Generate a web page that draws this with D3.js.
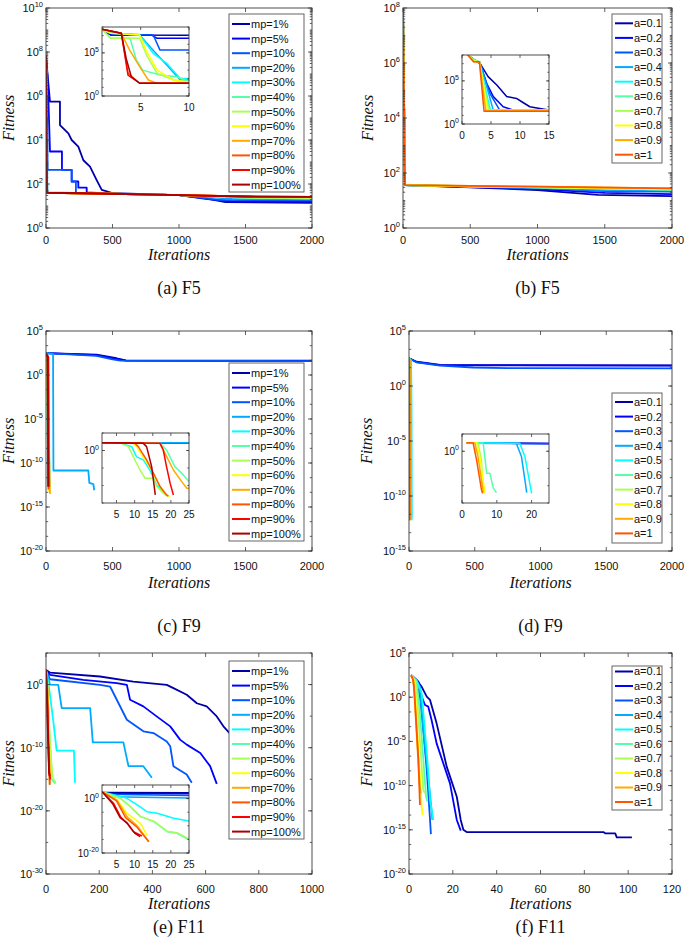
<!DOCTYPE html>
<html><head><meta charset="utf-8">
<script src="https://cdn.jsdelivr.net/npm/d3@7"></script>
<style>body{margin:0;background:#fff}svg{display:block}</style>
</head><body><svg id="c" width="685" height="940"></svg>
<script>
// ---------------- DATA ----------------
const mpLabels = ["mp=1%","mp=5%","mp=10%","mp=20%","mp=30%","mp=40%","mp=50%","mp=60%","mp=70%","mp=80%","mp=90%","mp=100%"];
const aLabels = ["a=0.1","a=0.2","a=0.3","a=0.4","a=0.5","a=0.6","a=0.7","a=0.8","a=0.9","a=1"];
const jetColors = ["#0000aa","#0000ff","#0055ff","#00aaff","#00ffff","#55ffaa","#aaff55","#ffff00","#ffaa00","#ff5500","#ff0000","#aa0000"];
const captions = ["(a) F5","(b) F5","(c) F9","(d) F9","(e) F11","(f) F11"];

const xTicks2000 = [0,500,1000,1500,2000];
const xTicks1000 = [0,200,400,600,800,1000];
const xTicks120 = [0,20,40,60,80,100,120];
const yTicksF5mp = [0,2,4,6,8,10];
const yTicksF5a = [0,2,4,6,8];
const yTicksF9mp = [5,0,-5,-10,-15,-20];
const yTicksF9a = [5,0,-5,-10,-15];
const yTicksF11mp = [0,-10,-20,-30];
const yTicksF11a = [5,0,-5,-10,-15,-20];
const insetXTicksA = [5,10], insetYTicksA = [0,5];
const insetXTicksB = [0,5,10,15], insetYTicksB = [0,5];
const insetXTicksC = [5,10,15,20,25], insetYTicksC = [0];
const insetXTicksD = [0,10,20], insetYTicksD = [0];
const insetXTicksE = [5,10,15,20,25], insetYTicksE = [0,-20];

// (a) F5, mp
const f5mpMain = [
 [[0,7e7],[12,8.9e6],[30,5.5e5],[105,5.5e5],[105,4.8e4],[168,2e4],[193,1e4],[243,5e3],[281,1.2e3],[331,6.2e2],[381,1.5e2],[419,54],[506,38],[1000,31],[1200,22],[1350,15],[2000,14]],
 [[0,7e7],[10,9e6],[20,3e5],[30,3e3],[120,3e3],[120,4.4e2],[193,4.4e2],[193,1.3e2],[243,1.3e2],[243,68],[306,68],[306,41],[500,36],[1000,31],[1200,21],[1400,16],[2000,16]],
 [[0,7e7],[8,2e6],[12,4.4e2],[193,4.4e2],[193,1.3e2],[225,1.3e2],[225,40],[500,36],[1000,31],[1300,19],[2000,18]],
 [[0,7e7],[5,1e6],[10,60],[15,42],[500,36],[1000,31],[1400,21],[2000,20]],
 [[0,7e7],[4,1e6],[7,40],[500,36],[1000,31],[1500,24],[2000,22]],
 [[0,7e7],[4,1e6],[7,40],[500,36],[1000,31],[1500,24],[2000,22]],
 [[0,7e7],[4,1e6],[7,40],[500,36],[1000,31],[1500,24],[2000,22]],
 [[0,7e7],[3,1e6],[6,40],[500,36],[1000,31],[1500,27],[2000,25]],
 [[0,7e7],[3,1e6],[6,40],[500,36],[1000,31],[1500,27],[2000,26]],
 [[0,7e7],[3,1e6],[6,40],[500,36],[1000,31],[1500,27],[2000,26]],
 [[0,7e7],[3,1e6],[6,40],[500,36],[1000,31],[1500,27],[2000,26]],
 [[0,7e7],[3,1e6],[6,40],[500,36],[1000,31],[1500,27],[2000,26]]
];
const f5mpInset = [
 [[1,5.4e7],[1.9,1.2e7],[10,1.1e7]],
 [[1,5.4e7],[1.9,1.2e7],[6.1,1.2e7],[6.7,4.9e6],[10,4.9e6]],
 [[1,5.4e7],[2.2,1.5e7],[6.3,1.2e7],[7.0,2.1e5],[10,2.1e5]],
 [[1,5.4e7],[3,1.5e7],[4.9,1.2e7],[6.1,3.4e5],[7.7,3.9e3],[9.1,72],[10,72]],
 [[1,5.4e7],[1.9,1.9e7],[4.9,1.2e7],[6.3,8.9e4],[7.7,6e3],[9.1,110],[10,110]],
 [[1,5.4e7],[1.9,4.9e6],[3.9,4.9e6],[4.55,1.5e4],[5.2,1e3],[7,270],[8.7,170],[10,46]],
 [[1,5.4e7],[1.9,4.9e6],[4.9,4.9e6],[5.6,5.6e4],[6.7,430],[8.4,72],[10,46]],
 [[1,5.4e7],[1.9,1.9e7],[4.9,1.2e7],[5.6,1.5e5],[6.7,1e3],[8.4,72],[10,40]],
 [[1,5.4e7],[3,1.9e7],[3.86,2.1e5],[4.9,2.5e3],[5.8,72],[6.7,30],[10,30]],
 [[1,5.4e7],[3,1.9e7],[3.7,430],[4.9,30],[10,30]],
 [[1,5.4e7],[3,1.9e7],[3.69,270],[4.9,30],[10,30]],
 [[1,5.4e7],[3,1.9e7],[3.5,2.3e4],[4.03,170],[4.9,30],[10,30]]
];
// (b) F5, a
const f5aMain = [
 [[0,1e8],[15,36],[500,30],[1000,24],[1450,16],[2000,14.5]],
 [[0,1e8],[15,36],[500,31],[1000,26],[1500,19],[2000,17]],
 [[0,1e8],[15,36],[500,32],[1000,28],[1500,22],[2000,21]],
 [[0,1e8],[15,36],[500,32],[1000,29],[1500,24],[2000,23]],
 [[0,1e8],[15,36],[500,33],[1000,30],[2000,25]],
 [[0,1e8],[15,36],[500,33],[1000,30],[2000,25]],
 [[0,1e8],[15,36],[500,33],[1000,30],[2000,25]],
 [[0,1e8],[15,36],[500,33],[1000,31],[2000,26]],
 [[0,1e8],[15,36],[500,34],[1000,32],[2000,27.5]],
 [[0,1e8],[15,36],[500,34],[1000,32],[2000,27.5]]
];
const f5aInset = [
 [[1,1e8],[2,3e7],[3.1,1.1e7],[4.5,3.1e5],[6,3.3e4],[7.7,1.5e3],[9.4,930],[10.3,380],[11.7,100],[13.4,63],[15,41]],
 [[1,1e8],[2,3e7],[3.1,1.1e7],[4.25,5.2e4],[5.4,1.5e3],[7.1,100],[8.9,40],[15,38]],
 [[1,1e8],[2,3e7],[3.1,1.1e7],[4.8,3.5e3],[6.5,40],[15,38]],
 [[1,1e8],[2,3e7],[3.1,1.5e7],[5.4,38],[15,38]],
 [[1,1e8],[2,3e7],[3,1.5e7],[4.9,38],[15,38]],
 [[1,1e8],[2,3e7],[3,1.5e7],[4.7,38],[15,38]],
 [[1,1e8],[2,2.5e7],[3,1.5e7],[4.6,38],[15,38]],
 [[1,1e8],[2,2e7],[3,1.7e7],[4.4,38],[15,38]],
 [[1,1e8],[2,1.7e7],[3,1.7e7],[4.1,36],[15,36]],
 [[1,1e8],[2,1.7e7],[3,1.7e7],[3.8,30],[15,30]]
];
// (c) F9, mp
const f9mpMain = [
 [[0,300],[380,200],[530,80],[600,45],[2000,42]],
 [[0,300],[380,180],[530,70],[600,42],[2000,40]],
 [[0,300],[380,150],[500,60],[560,42],[2000,38]],
 [[0,300],[53,250],[56,1.4e-11],[318,1.4e-11],[326,5.4e-13],[356,4e-13],[363,8e-14]],
 [[0,300],[6,110],[10,1e-2],[16,1e-10],[19,2e-13]],
 [[0,300],[17,110],[21,2.5e-5],[25,1.3e-9],[30,1.6e-13]],
 [[0,300],[8,12],[12,2.7e-6],[16,5e-11],[19,6e-14]],
 [[0,300],[10,110],[15,2.7e-6],[20,6e-14]],
 [[0,300],[17,110],[23,1.3e-9],[30,3e-14]],
 [[0,300],[10,110],[15,3e-7],[19,1e-13]],
 [[0,300],[17,110],[19,2.5e-5],[21,2e-13]],
 [[0,300],[12,110],[15,2.5e-5],[16,2e-13]]
];
const f9mpInset = [
 [[1,170],[25,160]],
 [[1,170],[25,160]],
 [[1,170],[25,160]],
 [[1,170],[25,160]],
 [[1,170],[6.4,110],[9.2,12.6],[10.5,1.7e-2],[12.4,2e-3],[14.2,2.7e-6],[16.1,1.3e-10],[17.9,2e-12],[18.8,2e-13]],
 [[1,170],[17,110],[18.8,1.4],[21.1,2.5e-5],[23,3.2e-7],[25,1.3e-9]],
 [[1,170],[6.4,110],[8.3,12.6],[9.6,1.7e-2],[11.5,2.7e-6],[12.9,1.1e-8],[15.2,1.1e-8],[16.1,5e-11],[17.9,6.3e-13],[19.3,6.3e-14]],
 [[1,170],[9.6,110],[10.5,12.6],[12.9,2e-3],[14.7,2.7e-6],[17,5e-11],[18.8,2e-13],[19.8,6.3e-14]],
 [[1,170],[17,110],[19.3,2e-3],[20.7,2.7e-6],[23,1.3e-9],[24.4,1.6e-11],[25,1.6e-11]],
 [[1,170],[10.1,110],[11,12.6],[13.3,2e-3],[15.2,3.2e-7],[17,5e-11],[18.8,2e-13],[19.3,1e-13]],
 [[1,170],[17,110],[17.9,1.4],[18.8,2.5e-5],[19.8,4e-10],[20.7,2e-13]],
 [[1,170],[12.4,110],[13.3,12.6],[14.7,2.5e-5],[15.7,2e-13]]
];
// (d) F9, a
const f9aMain = [
 [[0,330],[58,160],[236,85],[489,78],[2000,76]],
 [[0,330],[58,150],[236,80],[489,75],[2000,72]],
 [[0,330],[58,140],[236,70],[489,48],[742,42],[2000,40]],
 [[0,330],[15.6,200],[17.1,2.5e-2],[18.6,1e-12]],
 [[0,330],[16.6,200],[18.1,2.5e-2],[20,6.3e-13]],
 [[0,330],[5.6,250],[6.1,190],[7.1,4e-7],[8,4e-7],[9,2e-11],[9.9,1e-12]],
 [[0,330],[4.6,250],[5.6,2.8e-3],[6.1,6.3e-13]],
 [[0,330],[4.2,250],[5.1,2.5e-2],[6.6,6.3e-13]],
 [[0,330],[3.7,250],[4.6,2.5e-2],[6.1,2e-12]],
 [[0,330],[3.2,250],[4.2,2.8e-3],[5.6,6.3e-12],[5.9,6.3e-13]]
];
const f9aInset = [
 [[1.3,300],[3,220],[25,190]],
 [[1.3,300],[3,220],[25,170]],
 [[1.3,300],[3,220],[25,150]],
 [[1.3,300],[15.6,200],[17.1,2.5e-2],[18.6,1e-12]],
 [[1.3,300],[16.6,200],[18.1,2.5e-2],[20,6.3e-13]],
 [[1.3,300],[5.6,250],[6.1,190],[7.1,4e-7],[8,4e-7],[9,2e-11],[9.9,1e-12]],
 [[1.3,300],[4.6,250],[5.6,2.8e-3],[6.1,6.3e-13]],
 [[1.3,300],[4.2,250],[5.1,2.5e-2],[6.6,6.3e-13]],
 [[1.3,300],[3.7,250],[4.6,2.5e-2],[6.1,2e-12]],
 [[1.3,300],[3.2,250],[4.2,2.8e-3],[5.6,6.3e-12],[5.9,6.3e-13]]
];
// (e) F11, mp
const f11mpMain = [
 [[0,200],[15,79],[203,19],[328,3],[454,0.9],[479,0.27],[529,2.4e-2],[567,1.1e-3],[604,3.5e-4],[642,9e-6],[667,2.4e-7],[690,2.1e-8]],
 [[0,200],[15,34],[140,5.5],[266,1.7],[304,0.89],[316,3.9e-3],[366,3.5e-4],[416,9.1e-6],[467,2.4e-7],[504,1.9e-9],[529,3.1e-10],[580,1.5e-11],[617,1.2e-13],[642,1.9e-16]],
 [[0,200],[15,7],[203,0.89],[241,0.49],[304,2.7e-6],[366,3.9e-8],[404,2.1e-8],[454,1e-9],[467,1.7e-10],[479,1.2e-13],[529,5.8e-15],[548,2.8e-16]],
 [[0,200],[15,1],[46,0.89],[59,1.9e-4],[166,1.9e-4],[176,7.1e-10],[291,7.1e-10],[310,1.2e-13],[366,1.2e-13],[398,1.7e-15]],
 [[0,200],[10,1],[28,1e-6],[40,3.5e-11],[105,3.5e-11],[109,2.8e-16]],
 [[0,200],[6,1.3],[12,2.3e-7],[19,6.9e-13],[25,6.3e-16],[35,2e-16]],
 [[0,200],[6,1],[12,3e-7],[19,1e-12],[25,1.6e-15],[37,3e-16]],
 [[0,200],[5,0.31],[8,3.9e-6],[12,7.9e-10],[14,4e-14],[20,1e-15]],
 [[0,200],[5,0.2],[8,2.3e-7],[11,1e-10],[14,1.6e-16]],
 [[0,200],[5,0.15],[8,1e-7],[11,5e-11],[14,1.3e-16]],
 [[0,200],[4,1.8e-2],[8,7.9e-10],[12,1.8e-14],[16,1e-15]],
 [[0,200],[4,1e-2],[8,1e-9],[11.5,1e-14],[14,3e-15]]
];
const f11mpInset = [
 [[1,350],[2,160],[25,150]],
 [[1,350],[2,80],[25,60]],
 [[1,350],[2,40],[25,15]],
 [[1,350],[3,5],[25,1.5]],
 [[1,350],[7.9,1.3],[10.7,4.5e-3],[13.4,1.6e-5],[16.2,3.9e-6],[20.8,5.6e-8],[25,5.9e-9]],
 [[1,350],[6.1,1.3],[8.8,1.1e-3],[11.6,2.3e-7],[15.3,3.3e-9],[19,6.9e-13],[21.7,1.7e-13],[25,6.3e-16]],
 [[1,350],[6.1,1],[8.8,1.5e-3],[11.6,3e-7],[15.3,5e-9],[19,1e-12],[21.7,3e-13],[25,1.6e-15]],
 [[1,350],[5.2,0.31],[7.9,3.9e-6],[11.6,7.9e-10],[13.4,4e-14]],
 [[1,350],[5.2,0.2],[7.9,2.3e-7],[10.7,1e-10],[13.9,1.6e-16]],
 [[1,350],[5,0.15],[7.5,1e-7],[10.5,5e-11],[13.9,1.3e-16]],
 [[1,350],[4.2,1.8e-2],[6.1,2.3e-7],[7.9,7.9e-10],[9.7,6.9e-13],[12,1.8e-14]],
 [[1,350],[4,1e-2],[6,1e-7],[8,1e-9],[10,2e-13],[11.5,1e-14]]
];
// (f) F11, a
const f11aMain = [
 [[1,300],[3.5,89],[5.8,15],[8.1,1.15],[9.6,0.49],[12.6,1.1e-3],[17.2,1.4e-8],[21.8,5.5e-12],[23.6,1.3e-14],[24.8,1e-15],[26.3,5.6e-16],[88.7,5.6e-16],[89.5,4e-16],[94.1,4e-16],[94.8,1.4e-16],[101.7,1.4e-16]],
 [[1,300],[4.3,58],[5.8,1.15],[7.3,0.13],[8.8,8.5e-2],[10.3,2.6e-3],[12.6,6e-6],[18.7,1.8e-10],[21.8,1.3e-14],[23.6,8e-16]],
 [[1,300],[3.5,30],[5,1.15],[6.5,2e-4],[8.1,5.9e-9],[9.6,1.3e-14],[10,3.2e-16]],
 [[1,300],[3.5,60],[5,15],[6.5,2e-4],[8.8,1e-9],[10.7,1.3e-14]],
 [[1,300],[3.5,80],[5.8,2.8],[8.4,7.9e-8],[9.6,2.5e-12],[11.1,1.3e-14]],
 [[1,300],[3.5,60],[5,1.3e-2],[7.8,5e-12],[8.4,1.6e-12]],
 [[1,300],[3,60],[4.3,5e-3],[6.5,3e-11],[7.3,1.3e-11]],
 [[1,300],[2.5,60],[3.5,2.6e-3],[5.8,4e-13],[6.2,5e-14]],
 [[1,300],[2,80],[2.8,8.5e-2],[4.7,4.2e-10],[5.3,1.3e-11]],
 [[1,300],[1.8,100],[2.3,15],[4.3,7.9e-8],[5,6.3e-13]]
];

// ---------------- DRAWING ----------------
const svg = d3.select("#c");
const SANS = "'Liberation Sans', Arial, Helvetica, sans-serif";
const SERIF = "'Liberation Serif', 'Times New Roman', serif";
const AX = "#3a3a3a";
let clipN = 0;

function panel(o) {
  const xs = d3.scaleLinear().domain(o.xd).range([o.l, o.r]);
  const ys = d3.scaleLog().domain([Math.pow(10, o.yd[0]), Math.pow(10, o.yd[1])]).range([o.b, o.t]);
  const g = svg.append("g");
  g.append("rect").attr("x", o.l).attr("y", o.t).attr("width", o.r - o.l).attr("height", o.b - o.t).attr("fill", "#fff");
  const id = "clip" + (clipN++);
  g.append("clipPath").attr("id", id).append("rect")
    .attr("x", o.l).attr("y", o.t).attr("width", o.r - o.l).attr("height", o.b - o.t);
  const line = d3.line().x(d => xs(d[0])).y(d => ys(d[1]));
  g.append("g").attr("clip-path", `url(#${id})`)
    .selectAll("path").data(o.series).join("path")
    .attr("d", line).attr("fill", "none")
    .attr("stroke", (d, i) => jetColors[i])
    .attr("stroke-width", o.lw).attr("stroke-linejoin", "round");
  const tk = g.append("g").attr("stroke", AX).attr("stroke-width", 0.8);
  const tl = o.tl, tm = o.tl * 0.55;
  o.xt.forEach(v => {
    const x = xs(v);
    tk.append("line").attr("x1", x).attr("x2", x).attr("y1", o.b).attr("y2", o.b - tl);
    tk.append("line").attr("x1", x).attr("x2", x).attr("y1", o.t).attr("y2", o.t + tl);
  });
  let minors = [];
  if (o.minor === "log") {
    for (let d = o.yd[0]; d < o.yd[1]; d++) for (let k = 1; k < 10; k++) minors.push(k * Math.pow(10, d));
  } else {
    const s = o.minor;
    for (let e = o.yd[1]; e >= o.yd[0] - 1e-6; e -= s) minors.push(Math.pow(10, e));
  }
  minors.forEach(v => {
    const y = ys(v);
    if (y < o.t - 0.5 || y > o.b + 0.5) return;
    tk.append("line").attr("x1", o.l).attr("x2", o.l + tm).attr("y1", y).attr("y2", y);
    tk.append("line").attr("x1", o.r).attr("x2", o.r - tm).attr("y1", y).attr("y2", y);
  });
  o.yt.forEach(e => {
    const y = ys(Math.pow(10, e));
    tk.append("line").attr("x1", o.l).attr("x2", o.l + tl).attr("y1", y).attr("y2", y);
    tk.append("line").attr("x1", o.r).attr("x2", o.r - tl).attr("y1", y).attr("y2", y);
  });
  g.append("rect").attr("x", o.l).attr("y", o.t).attr("width", o.r - o.l).attr("height", o.b - o.t)
    .attr("fill", "none").attr("stroke", AX).attr("stroke-width", 0.9);
  o.xt.forEach(v => {
    g.append("text").attr("x", xs(v)).attr("y", o.b + o.xpad).attr("text-anchor", "middle")
      .attr("font-family", SANS).attr("font-size", o.fs).attr("fill", "#111").text(v);
  });
  o.yt.forEach(e => {
    const t = g.append("text").attr("x", o.l - 3).attr("y", ys(Math.pow(10, e)))
      .attr("dy", "0.36em").attr("text-anchor", "end")
      .attr("font-family", SANS).attr("font-size", o.fs).attr("fill", "#111");
    t.append("tspan").text("10");
    t.append("tspan").attr("dy", -o.fs * 0.45).attr("font-size", o.efs).text(e);
  });
  return {xs, ys};
}

function legend(o, labels) {
  const g = svg.append("g");
  g.append("rect").attr("x", o.x).attr("y", o.y).attr("width", o.w).attr("height", o.h)
    .attr("fill", "#fff").attr("stroke", "#555").attr("stroke-width", 0.9);
  labels.forEach((lab, i) => {
    const y = o.y0 + i * o.dy;
    g.append("line").attr("x1", o.x + 3).attr("x2", o.x + 21).attr("y1", y).attr("y2", y)
      .attr("stroke", jetColors[i]).attr("stroke-width", 2);
    g.append("text").attr("x", o.x + 22).attr("y", y).attr("dy", "0.36em")
      .attr("font-family", SANS).attr("font-size", 11).attr("fill", "#111").text(lab);
  });
}

function titles(l, r, t, b, yLabX, itY, capY, cap) {
  svg.append("text").attr("transform", `translate(${yLabX},${(t + b) / 2}) rotate(-90)`)
    .attr("text-anchor", "middle").attr("font-family", SERIF).attr("font-style", "italic")
    .attr("font-size", 16).attr("fill", "#111").text("Fitness");
  svg.append("text").attr("x", (l + r) / 2).attr("y", itY).attr("text-anchor", "middle")
    .attr("font-family", SERIF).attr("font-style", "italic").attr("font-size", 16).attr("fill", "#111").text("Iterations");
  svg.append("text").attr("x", (l + r) / 2).attr("y", capY).attr("text-anchor", "middle")
    .attr("font-family", SERIF).attr("font-size", 18).attr("fill", "#111").text(cap);
}

const M = {lw: 1.8, tl: 4, fs: 11, efs: 7.5, xpad: 19};
const I = {lw: 1.5, tl: 3, fs: 10, efs: 7, xpad: 15};

// (a)
panel({...M, xpad: 16, l: 46, r: 312, t: 8, b: 228, xd: [0, 2000], xt: xTicks2000, yd: [0, 10], yt: yTicksF5mp, minor: "log", series: f5mpMain});
panel({...I, l: 102, r: 189, t: 27, b: 96, xd: [1, 10], xt: insetXTicksA, yd: [0, 8], yt: insetYTicksA, minor: 1, series: f5mpInset});
legend({x: 229, y: 14, w: 75, h: 178, y0: 24, dy: 14.6}, mpLabels);
titles(46, 312, 8, 228, 14, 260, 294, captions[0]);
// (b)
panel({...M, xpad: 16, l: 403, r: 672, t: 8, b: 228, xd: [0, 2000], xt: xTicks2000, yd: [0, 8], yt: yTicksF5a, minor: "log", series: f5aMain});
panel({...I, l: 462, r: 549, t: 55, b: 124, xd: [0, 15], xt: insetXTicksB, yd: [0, 8], yt: insetYTicksB, minor: 1, series: f5aInset});
legend({x: 612, y: 14, w: 50, h: 149, y0: 23.3, dy: 14.6}, aLabels);
titles(403, 672, 8, 228, 373, 260, 294, captions[1]);
// (c)
panel({...M, l: 46, r: 312, t: 331, b: 551, xd: [0, 2000], xt: xTicks2000, yd: [-20, 5], yt: yTicksF9mp, minor: 5 / 3, series: f9mpMain});
panel({...I, l: 102, r: 189, t: 433, b: 503, xd: [1, 25], xt: insetXTicksC, yd: [-15, 5], yt: insetYTicksC, minor: 5, series: f9mpInset});
legend({x: 229, y: 363, w: 75, h: 178, y0: 373, dy: 14.6}, mpLabels);
titles(46, 312, 331, 551, 14, 588, 632, captions[2]);
// (d)
panel({...M, l: 409, r: 672, t: 331, b: 551, xd: [0, 2000], xt: xTicks2000, yd: [-15, 5], yt: yTicksF9a, minor: 5 / 3, series: f9aMain});
panel({...I, l: 462, r: 549, t: 434, b: 503, xd: [0, 25], xt: insetXTicksD, yd: [-15, 5], yt: insetYTicksD, minor: 5, series: f9aInset});
legend({x: 612, y: 393, w: 50, h: 150, y0: 402, dy: 14.6}, aLabels);
titles(409, 672, 331, 551, 372, 588, 632, captions[3]);
// (e)
panel({...M, l: 46, r: 312, t: 653, b: 874, xd: [0, 1000], xt: xTicks1000, yd: [-30, 5], yt: yTicksF11mp, minor: 5, series: f11mpMain});
panel({...I, l: 102, r: 189, t: 785, b: 853, xd: [1, 25], xt: insetXTicksE, yd: [-20, 5], yt: insetYTicksE, minor: 5, series: f11mpInset});
legend({x: 229, y: 661, w: 75, h: 178, y0: 671, dy: 14.6}, mpLabels);
titles(46, 312, 653, 874, 14, 909, 933, captions[4]);
// (f)
panel({...M, l: 409, r: 672, t: 653, b: 874, xd: [0, 120], xt: xTicks120, yd: [-20, 5], yt: yTicksF11a, minor: 5 / 3, series: f11aMain});
legend({x: 612, y: 666, w: 50, h: 144, y0: 671.5, dy: 14.5}, aLabels);
titles(409, 672, 653, 874, 372, 909, 933, captions[5]);
</script>
</body></html>
